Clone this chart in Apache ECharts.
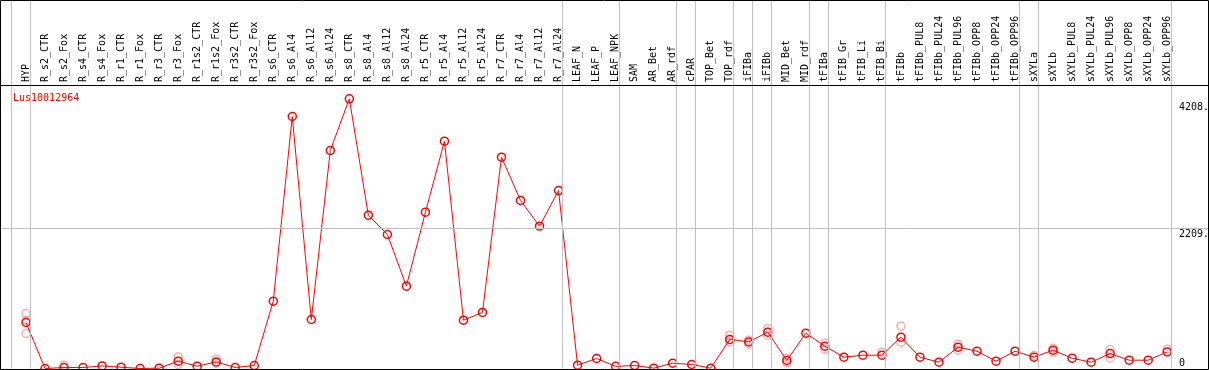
<!DOCTYPE html>
<html>
<head>
<meta charset="utf-8">
<script src="https://cdn.jsdelivr.net/npm/echarts@6/dist/echarts.min.js"></script>
<style>
html,body{margin:0;padding:0;background:#fff;}
#chart{width:1209px;height:370px;}
</style>
</head>
<body>
<div id="chart"></div>
<script>
var seriesName = 'Lus10012964';
var categories = ['HYP','R_s2_CTR','R_s2_Fox','R_s4_CTR','R_s4_Fox','R_r1_CTR','R_r1_Fox','R_r3_CTR','R_r3_Fox',
  'R_r1s2_CTR','R_r1s2_Fox','R_r3s2_CTR','R_r3s2_Fox','R_s6_CTR','R_s6_Al4','R_s6_Al12','R_s6_Al24',
  'R_s8_CTR','R_s8_Al4','R_s8_Al12','R_s8_Al24','R_r5_CTR','R_r5_Al4','R_r5_Al12','R_r5_Al24',
  'R_r7_CTR','R_r7_Al4','R_r7_Al12','R_r7_Al24','LEAF_N','LEAF_P','LEAF_NPK','SAM','AR_Bet','AR_rdf',
  'cPAR','TOP_Bet','TOP_rdf','iFIBa','iFIBb','MID_Bet','MID_rdf','tFIBa','tFIB_Gr','tFIB_Li','tFIB_Bi',
  'tFIBb','tFIBb_PUL8','tFIBb_PUL24','tFIBb_PUL96','tFIBb_OPP8','tFIBb_OPP24','tFIBb_OPP96',
  'sXYLa','sXYLb','sXYLb_PUL8','sXYLb_PUL24','sXYLb_PUL96','sXYLb_OPP8','sXYLb_OPP24','sXYLb_OPP96'];
var meanValues = [726,0,16,16,41,20,0,5,115,36,104,16,47,1062,3976,773,3440,
  4255,2419,2114,1299,2466,3586,762,884,3334,2651,2245,2808,52,158,34,47,5,84,
  63,5,458,420,573,126,557,352,178,210,210,
  494,178,99,336,273,115,273,
  178,289,162,99,236,131,131,262];
// replicate measurements: [category index, value]
var replicateValues = [[0,868],[0,760],[0,552],[2,52],[8,183],[8,63],[10,147],[10,79],
  [37,525],[37,420],[38,447],[38,383],[39,631],[39,525],[40,160],[40,90],
  [42,400],[42,305],[45,257],[46,667],[46,415],[49,383],[49,289],[53,205],
  [54,320],[54,260],[57,300],[57,163],[60,304]];
// group boundaries: the last category index of each group (-1 = before first)
var groupEnds = [-1,0,28,31,34,35,37,38,39,41,42,45,52,53,60];
var yTickValues = [0,2209,4208];
var gridLineValues = [2209];

var FONT = '"DejaVu Sans Mono", monospace';
var chart = echarts.init(document.getElementById('chart'), null, {renderer:'canvas'});

var option = {
  animation: false,
  title: {
    text: seriesName, left: 8, top: 88,
    textStyle: {color: '#ff0000', fontSize: 10, fontWeight: 'normal', fontFamily: FONT}
  },
  grid: {left: 0, right: 0, top: 0, bottom: 1.5, outerBoundsMode: 'none', containLabel: false},
  xAxis: {
    type: 'value', position: 'top', min: -1.367, max: 62.198,
    axisLine: {show: false}, axisTick: {show: false}, splitLine: {show: false},
    axisLabel: {
      show: true, inside: true, rotate: 90, margin: 82, align: 'left', verticalAlign: 'middle',
      customValues: categories.map(function(c, i){ return i; }),
      formatter: function(v){ return categories[Math.round(v)] || ''; },
      color: '#000', fontSize: 10, fontFamily: FONT
    }
  },
  yAxis: {
    type: 'value', position: 'right', min: 0, max: 5814,
    axisLine: {show: false}, axisTick: {show: false}, splitLine: {show: false},
    axisLabel: {
      show: true, inside: true, margin: 30, align: 'left', verticalAlign: 'middle',
      customValues: yTickValues,
      formatter: function(v){ return v === 0 ? '{z|0}' : '{t|' + v + '.}'; },
      color: '#000', fontSize: 10, fontFamily: FONT,
      rich: {
        z: {fontSize: 10, fontFamily: FONT, color: '#000', padding: [0,0,11,0]},
        t: {fontSize: 10, fontFamily: FONT, color: '#000', padding: [11,0,0,0]}
      }
    }
  },
  series: [
    {
      type: 'line', data: [], z: 1, silent: true,
      markLine: {
        silent: true, symbol: ['none','none'], label: {show: false},
        lineStyle: {color: '#c0c0c0', width: 1, type: 'solid'},
        emphasis: {disabled: true},
        data: groupEnds.map(function(g){ return {xAxis: g + 0.2}; })
          .concat(gridLineValues.map(function(v){ return {yAxis: v}; }))
      }
    },
    {
      name: seriesName + ' replicates', type: 'scatter', z: 2,
      data: replicateValues,
      symbol: 'circle', symbolSize: 8,
      itemStyle: {color: 'rgba(0,0,0,0)', borderColor: '#f09a9a', borderWidth: 1.5}
    },
    {
      name: seriesName, type: 'line', z: 3,
      data: meanValues.map(function(v, i){ return [i, v]; }),
      symbol: 'circle', symbolSize: 8, showSymbol: true,
      lineStyle: {color: '#ff0000', width: 1},
      itemStyle: {color: 'rgba(0,0,0,0)', borderColor: '#ff0000', borderWidth: 1.5}
    }
  ],
  graphic: [
    {type: 'rect', shape: {x: 0.5, y: 0.5, width: 1208, height: 369}, style: {fill: null, stroke: '#000', lineWidth: 1}, z: 100, silent: true},
    {type: 'line', shape: {x1: 0, y1: 85.5, x2: 1209, y2: 85.5}, style: {stroke: '#000', lineWidth: 1}, z: 100, silent: true}
  ]
};
chart.setOption(option);
</script>
</body>
</html>
